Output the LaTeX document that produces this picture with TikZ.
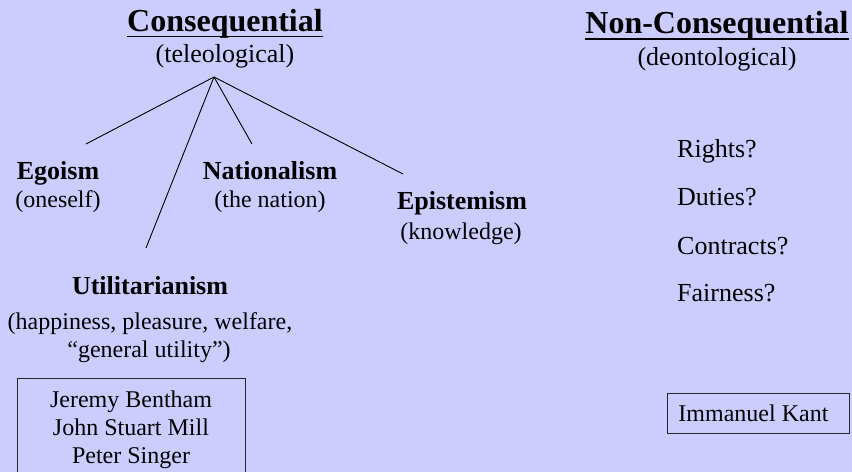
\documentclass[tikz,border=0pt]{standalone}
\usepackage{fontspec}
\setmainfont{Liberation Serif}
\definecolor{bg}{HTML}{CCCCFF}
\begin{document}
\begin{tikzpicture}[x=1bp,y=-1bp,
  lbl/.style={inner sep=0pt, anchor=base, font=\fontsize{26bp}{28bp}\selectfont},
  sublbl/.style={inner sep=0pt, anchor=base, font=\fontsize{24bp}{28bp}\selectfont},
  boldlbl/.style={inner sep=0pt, anchor=base, font=\fontsize{26bp}{28bp}\selectfont\bfseries},
  ttl/.style={inner sep=0pt, anchor=base, font=\fontsize{32bp}{36bp}\selectfont\bfseries},
  item/.style={inner sep=0pt, anchor=base west, font=\fontsize{26bp}{28bp}\selectfont},
  conn/.style={line width=0.9bp, black},
  uline/.style={line width=1.8bp, black},
  namebox/.style={draw=black!85, line width=0.9bp, font=\fontsize{24bp}{28bp}\selectfont}
]
\useasboundingbox[fill=bg] (0,0) rectangle (852,472);
\clip (0,0) rectangle (852,472);

% Left: Consequential
\node[ttl] (cons) at (225,32) {Consequential};
\draw[uline] ([yshift=-4.5bp]cons.base west) -- ([yshift=-4.5bp]cons.base east);
\node[lbl] (conssub) at (225,63) {(teleological)};

\node[boldlbl] (ego) at (58,180) {Egoism};
\node[sublbl] (egosub) at (58,208) {(oneself)};
\node[boldlbl] (nat) at (270,180) {Nationalism};
\node[sublbl] (natsub) at (270,208) {(the nation)};
\node[boldlbl] (epi) at (462,210) {Epistemism};
\node[sublbl] (episub) at (461,240) {(knowledge)};
\node[boldlbl] (util) at (150,295) {Utilitarianism};
\node[sublbl] (utilsub1) at (150,330) {(happiness, pleasure, welfare,};
\node[sublbl] (utilsub2) at (149,358) {“general utility”)};

\coordinate (apex) at (214,77);
\coordinate (egoEnd) at (86,144);
\coordinate (natEnd) at (252,144);
\coordinate (epiEnd) at (403,174);
\coordinate (utilEnd) at (146,248);
\draw[conn] (apex) -- (egoEnd);
\draw[conn] (apex) -- (natEnd);
\draw[conn] (apex) -- (epiEnd);
\draw[conn] (apex) -- (utilEnd);

\node[namebox, align=center, anchor=north, minimum width=228bp, inner xsep=6bp, inner ysep=12.5bp] (names) at (131,378)
  {Jeremy Bentham\\John Stuart Mill\\Peter Singer};

% Right: Non-Consequential
\node[ttl] (noncons) at (717,34) {Non-Consequential};
\draw[uline] ([yshift=-5bp]noncons.base west) -- ([yshift=-5bp]noncons.base east);
\node[lbl] (nonconssub) at (717,66) {(deontological)};

\node[item] (rights) at (677,158) {Rights?};
\node[item] (duties) at (677,206) {Duties?};
\node[item] (contracts) at (677,255) {Contracts?};
\node[item] (fairness) at (677,302) {Fairness?};

\node[namebox, anchor=west, minimum height=40bp, inner xsep=11bp, inner ysep=0pt] (kant) at (667,413) {\makebox[160bp][l]{Immanuel Kant}};
\end{tikzpicture}
\end{document}
